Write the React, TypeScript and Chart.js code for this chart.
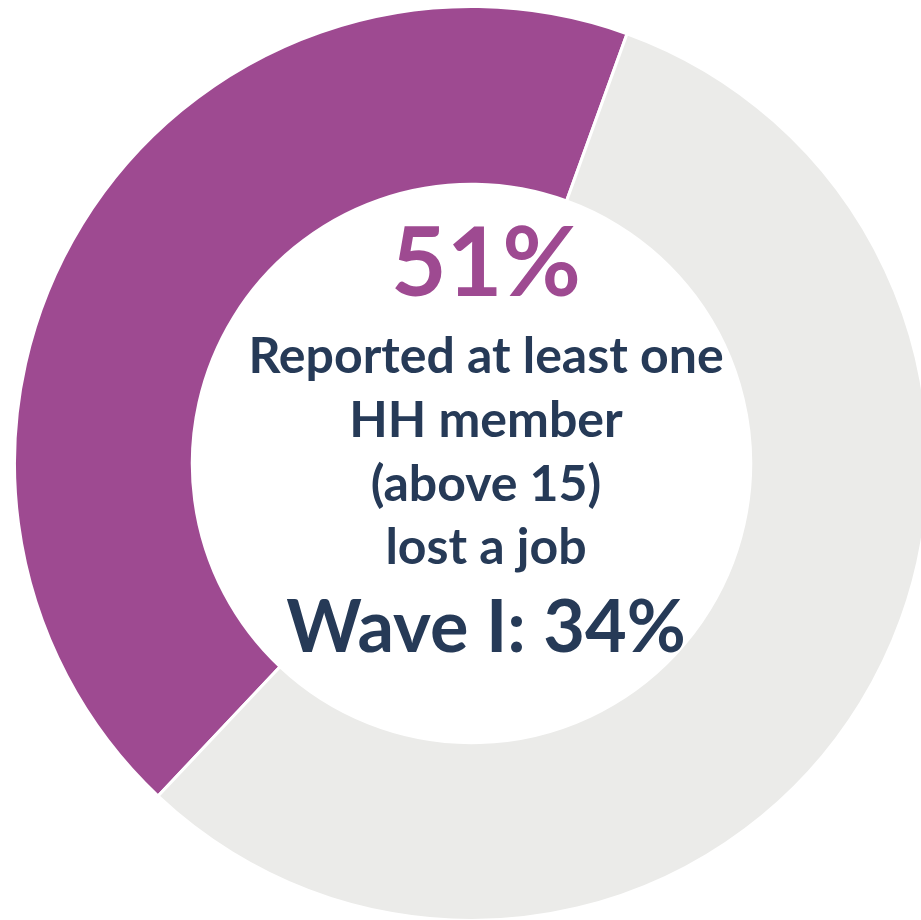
import React, { useEffect, useRef } from "react";
import { Chart, registerables } from "chart.js";

Chart.register(...registerables);

const categories = ["Lost a job", "Did not lose a job"];
const shareValues = [43.5, 56.5];
const segmentColors = ["#9E4A91", "#EBEBE9"];
const headline = "51%";
const captionLines = ["Reported at least one", "HH member", "(above 15)", "lost a job"];
const footerLine = "Wave I: 34%";

const FONT = "Lato, 'Open Sans', sans-serif";
const NAVY = "#263A57";
const PURPLE = "#9E4A91";
const TEXT_CX = 486;

function Line({ text, size, baseline, color }: { text: string; size: number; baseline: number; color: string }) {
  const top = baseline - 0.887 * size;
  return (
    <div
      style={{
        position: "absolute",
        left: TEXT_CX - 400,
        width: 800,
        top,
        textAlign: "center",
        fontFamily: FONT,
        fontWeight: 700,
        fontSize: size,
        lineHeight: `${size}px`,
        color,
        whiteSpace: "nowrap",
      }}
    >
      {text}
    </div>
  );
}

export default function App() {
  const ref = useRef<HTMLCanvasElement | null>(null);
  useEffect(() => {
    if (!ref.current) return;
    const chart = new Chart(ref.current, {
      type: "doughnut",
      data: {
        labels: categories,
        datasets: [
          {
            data: shareValues,
            backgroundColor: segmentColors,
            borderColor: "#FFFFFF",
            borderWidth: 3,
            hoverOffset: 0,
          },
        ],
      },
      options: {
        responsive: false,
        animation: false,
        rotation: 223.3,
        cutout: "61.1%",
        layout: { padding: 0 },
        plugins: { legend: { display: false }, tooltip: { enabled: false } },
      },
    });
    return () => chart.destroy();
  }, []);

  const baselines = [373, 437, 501, 564];
  return (
    <div style={{ position: "fixed", left: 0, top: 0, width: 921, height: 920, overflow: "hidden", background: "#fff" }}>
      <canvas
        ref={ref}
        width={917}
        height={917}
        style={{ position: "absolute", left: 13, top: 5, width: 917, height: 917 }}
      />
      <Line text={headline} size={96} baseline={296} color={PURPLE} />
      {captionLines.map((t, i) => (
        <Line key={t} text={t} size={50} baseline={baselines[i]} color={NAVY} />
      ))}
      <Line text={footerLine} size={72} baseline={652} color={NAVY} />
    </div>
  );
}
